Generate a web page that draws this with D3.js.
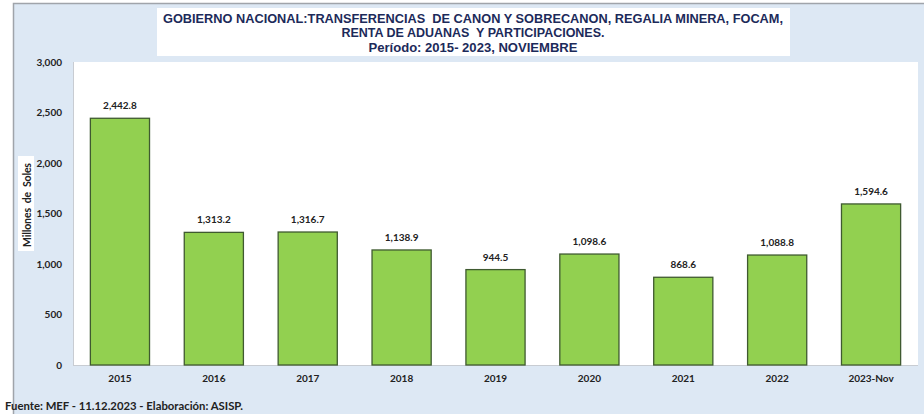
<!DOCTYPE html>
<html><head><meta charset="utf-8">
<script src="https://cdn.jsdelivr.net/npm/d3@7"></script>
<style>body{margin:0;background:#fff}svg{display:block}</style>
</head><body>
<svg id="c" width="924" height="414"></svg>
<script>
const categories = ["2015","2016","2017","2018","2019","2020","2021","2022","2023-Nov"];
const values = [2442.8,1313.2,1316.7,1138.9,944.5,1098.6,868.6,1088.8,1594.6];
const yTicks = [0,500,1000,1500,2000,2500,3000];
const titleLines = ["GOBIERNO NACIONAL:TRANSFERENCIAS  DE CANON Y SOBRECANON, REGALIA MINERA, FOCAM,","RENTA DE ADUANAS  Y PARTICIPACIONES.","Período: 2015- 2023, NOVIEMBRE"];
const yTitle = "Millones  de  Soles";
const footer = "Fuente: MEF - 11.12.2023 - Elaboración: ASISP.";

const svg = d3.select("#c");
const W=924,H=414;
const m={l:73,r:918,t:62,b:365};
// background
svg.append("rect").attr("x",13).attr("y",3).attr("width",W-13).attr("height",H-3).attr("fill","#dde8f4");
svg.append("path").attr("d",`M13.5,${H}V3.5H${W}`).attr("fill","none").attr("stroke","#a0a4aa").attr("stroke-width",1.5);
// plot area
svg.append("rect").attr("x",m.l).attr("y",m.t).attr("width",m.r-m.l).attr("height",m.b-m.t).attr("fill","#fff");

const x=d3.scaleBand().domain(categories).range([m.l,m.r]).paddingInner(0.37).paddingOuter(0.185);
const y=d3.scaleLinear().domain([0,3000]).range([m.b,m.t]);

svg.append("line").attr("x1",m.l).attr("x2",m.r).attr("y1",m.b+0.5).attr("y2",m.b+0.5).attr("stroke","#c8ccd2");
svg.append("line").attr("x1",m.l+0.5).attr("x2",m.l+0.5).attr("y1",m.t).attr("y2",m.b).attr("stroke","#c8ccd2");

const fmt=d3.format(",.1f");
const yAxis=d3.axisLeft(y).tickValues(yTicks).tickFormat(d3.format(",")).tickSize(0).tickPadding(11);
const gy=svg.append("g").attr("transform",`translate(${m.l},0)`).call(yAxis);
gy.select(".domain").remove();
gy.selectAll("text").attr("font-family","Lato, sans-serif").attr("font-weight","bold").attr("font-size",10).attr("fill","#222");

const xAxis=d3.axisBottom(x).tickSize(0).tickPadding(10);
const gx=svg.append("g").attr("transform",`translate(0,${m.b})`).call(xAxis);
gx.select(".domain").remove();
gx.selectAll("text").attr("font-family","Lato, sans-serif").attr("font-weight","bold").attr("font-size",10).attr("fill","#222");

svg.selectAll("rect.bar").data(values).enter().append("rect").attr("class","bar")
  .attr("x",(d,i)=>x(categories[i])).attr("width",x.bandwidth())
  .attr("y",d=>y(d)).attr("height",d=>y(0)-y(d))
  .attr("fill","#92d050").attr("stroke","#3f5a30").attr("stroke-width",1.3);

svg.selectAll("text.lbl").data(values).enter().append("text").attr("class","lbl")
  .attr("x",(d,i)=>x(categories[i])+x.bandwidth()/2).attr("y",d=>y(d)-9)
  .attr("text-anchor","middle").attr("font-family","Lato, sans-serif").attr("font-weight","bold").attr("font-size",10).attr("fill","#222")
  .text(d=>fmt(d));

// y title
svg.append("rect").attr("x",18).attr("y",156).attr("width",16).attr("height",95).attr("fill","#fff");
svg.append("text").attr("transform","translate(31,205) rotate(-90)").attr("text-anchor","middle")
  .attr("font-family","Lato, sans-serif").attr("font-weight","bold").attr("font-size",10.5).attr("fill","#222")
  .attr("textLength",84).attr("lengthAdjust","spacing").attr("xml:space","preserve").text(yTitle);

// title
svg.append("rect").attr("x",157).attr("y",8).attr("width",633).attr("height",48).attr("fill","#fff");
const tl=[{y:23,w:620},{y:37,w:263},{y:52,w:209}];
titleLines.forEach((t,i)=>{
  svg.append("text").attr("x",473).attr("y",tl[i].y).attr("text-anchor","middle")
   .attr("font-family","'Liberation Sans Narrow', 'Arial Narrow', 'Liberation Sans', sans-serif").attr("font-weight","bold").attr("font-size",13)
   .attr("fill","#1c2a5a").attr("textLength",tl[i].w).attr("lengthAdjust","spacingAndGlyphs").attr("xml:space","preserve").text(t);
});

// footer
svg.append("text").attr("x",5).attr("y",410).attr("font-family","Lato, sans-serif").attr("font-weight","bold").attr("font-size",10.5).attr("fill","#222")
  .attr("textLength",238).attr("lengthAdjust","spacingAndGlyphs").text(footer);
</script>
</body></html>
